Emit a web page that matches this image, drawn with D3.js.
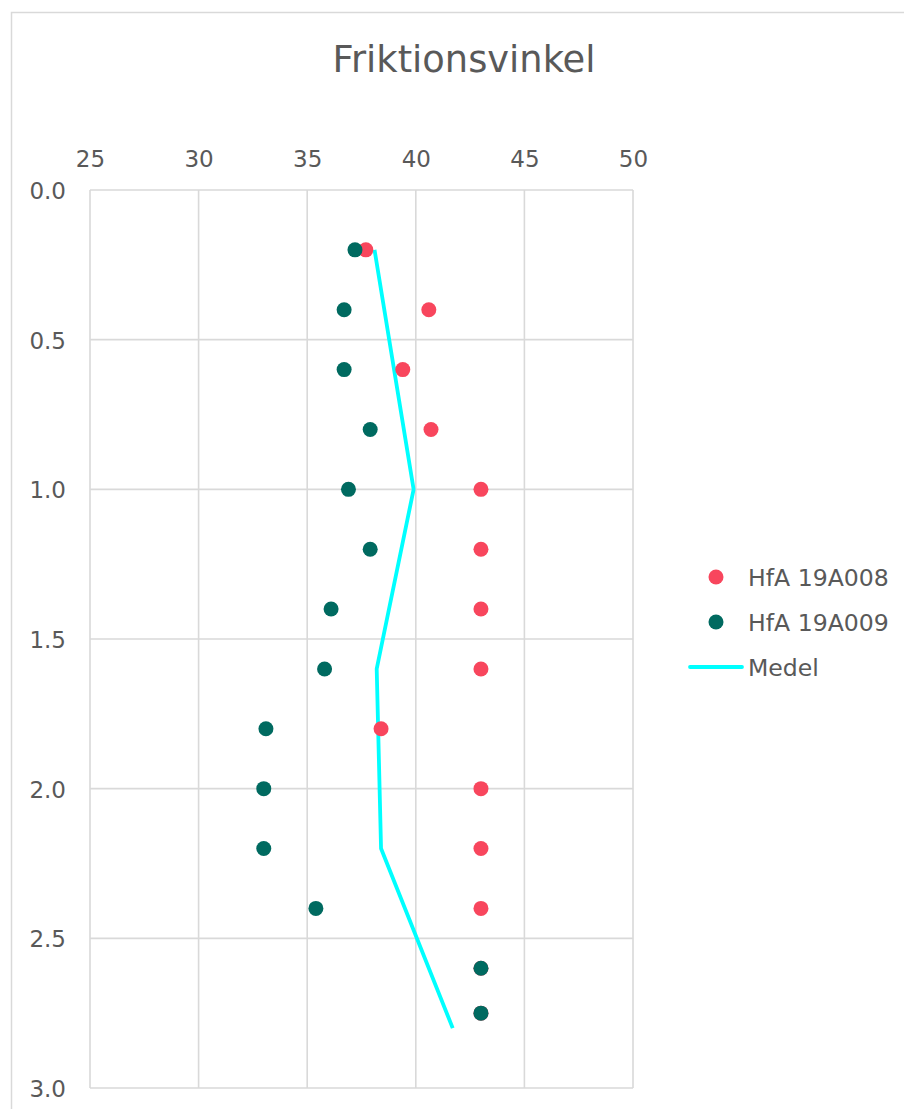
<!DOCTYPE html>
<html>
<head>
<meta charset="utf-8">
<script src="https://cdn.jsdelivr.net/npm/d3@7/dist/d3.min.js"></script>
<style>
  html, body { margin: 0; padding: 0; background: #fff; }
  svg { display: block; }
  text { font-family: "DejaVu Sans", Verdana, sans-serif; fill: #595959; }
</style>
</head>
<body>
<svg id="chart" width="904" height="1109"></svg>
<script>
// ---- data ----
const title = "Friktionsvinkel";
const seriesNames = ["HfA 19A008", "HfA 19A009", "Medel"];
const xTicks = [25, 30, 35, 40, 45, 50];
const yTicks = [0.0, 0.5, 1.0, 1.5, 2.0, 2.5, 3.0];

const depth008 = [0.2, 0.4, 0.6, 0.8, 1.0, 1.2, 1.4, 1.6, 1.8, 2.0, 2.2, 2.4, 2.6, 2.75];
const fric008  = [37.7, 40.6, 39.4, 40.7, 43.0, 43.0, 43.0, 43.0, 38.4, 43.0, 43.0, 43.0, 43.0, 43.0];

const depth009 = [0.2, 0.4, 0.6, 0.8, 1.0, 1.2, 1.4, 1.6, 1.8, 2.0, 2.2, 2.4, 2.6, 2.75];
const fric009  = [37.2, 36.7, 36.7, 37.9, 36.9, 37.9, 36.1, 35.8, 33.1, 33.0, 33.0, 35.4, 43.0, 43.0];

const depthMedel = [0.2, 1.0, 1.6, 2.2, 2.8];
const fricMedel  = [38.1, 39.9, 38.2, 38.4, 41.7];

// ---- styles ----
const colors = ["#F8465D", "#006A60", "#00FFFF"];
const gridColor = "#d9d9d9";

const svg = d3.select("#chart");

// outer chart border
svg.append("rect")
  .attr("x", 11.5).attr("y", 12.5)
  .attr("width", 1000).attr("height", 1200)
  .attr("fill", "none").attr("stroke", gridColor).attr("stroke-width", 1.5);

// title
svg.append("text")
  .attr("x", 464).attr("y", 72)
  .attr("text-anchor", "middle")
  .style("font-size", "36.8px")
  .text(title);

const x = d3.scaleLinear().domain([25, 50]).range([90, 633]);
const y = d3.scaleLinear().domain([0, 3]).range([190, 1088]);

// gridlines
const grid = svg.append("g");
grid.selectAll("line.v").data(xTicks).join("line")
  .attr("x1", d => x(d)).attr("x2", d => x(d))
  .attr("y1", y(0)).attr("y2", y(3))
  .attr("stroke", gridColor).attr("stroke-width", 1.6);
grid.selectAll("line.h").data(yTicks).join("line")
  .attr("x1", x(25)).attr("x2", x(50))
  .attr("y1", d => y(d)).attr("y2", d => y(d))
  .attr("stroke", gridColor).attr("stroke-width", 1.6);

// axes
const xAxis = svg.append("g")
  .attr("transform", `translate(0,${y(0)})`)
  .call(d3.axisTop(x).tickValues(xTicks).tickSize(0).tickPadding(23).tickFormat(d3.format("d")));
const yAxis = svg.append("g")
  .attr("transform", `translate(${x(25)},0)`)
  .call(d3.axisLeft(y).tickValues(yTicks).tickSize(0).tickPadding(24).tickFormat(d3.format(".1f")));
[xAxis, yAxis].forEach(a => {
  a.select(".domain").remove();
  a.selectAll("text").style("font-size", "23px").attr("fill", "#595959")
    .style("font-family", '"DejaVu Sans", Verdana, sans-serif');
});
yAxis.selectAll("text").attr("dy", "0.37em");

// medel line
const medel = depthMedel.map((d, i) => ({ d, v: fricMedel[i] }));
svg.append("path")
  .datum(medel)
  .attr("fill", "none")
  .attr("stroke", colors[2])
  .attr("stroke-width", 3.8)
  .attr("stroke-linejoin", "round")
  .attr("d", d3.line().x(p => x(p.v)).y(p => y(p.d)));

// scatter series
const s008 = depth008.map((d, i) => ({ d, v: fric008[i] }));
const s009 = depth009.map((d, i) => ({ d, v: fric009[i] }));
svg.append("g").selectAll("circle").data(s008).join("circle")
  .attr("cx", p => x(p.v)).attr("cy", p => y(p.d)).attr("r", 7.5)
  .attr("fill", colors[0]);
svg.append("g").selectAll("circle").data(s009).join("circle")
  .attr("cx", p => x(p.v)).attr("cy", p => y(p.d)).attr("r", 7.5)
  .attr("fill", colors[1]);

// legend
const legend = svg.append("g");
const legY = [577, 622, 667];
seriesNames.forEach((name, i) => {
  if (i < 2) {
    legend.append("circle")
      .attr("cx", 716).attr("cy", legY[i]).attr("r", 7.5)
      .attr("fill", colors[i]);
  } else {
    legend.append("line")
      .attr("x1", 690).attr("x2", 742)
      .attr("y1", legY[i]).attr("y2", legY[i])
      .attr("stroke", colors[i]).attr("stroke-width", 3.8)
      .attr("stroke-linecap", "round");
  }
  legend.append("text")
    .attr("x", 748).attr("y", legY[i]).attr("dy", "0.37em")
    .style("font-size", "23.6px")
    .text(name);
});
</script>
</body>
</html>
